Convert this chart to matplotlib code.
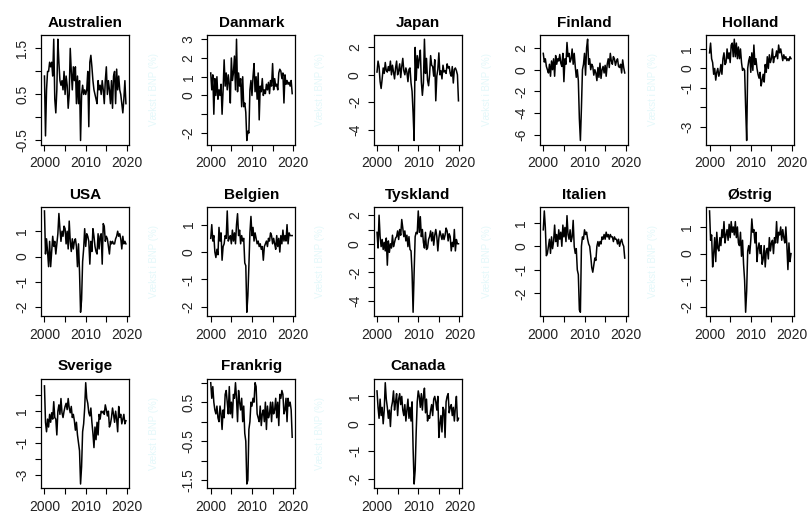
import matplotlib.pyplot as plt
import numpy as np

plt.rcParams['font.family'] = ['Liberation Sans', 'DejaVu Sans']

# quarterly growth in real GDP (%), 2000Q1 - 2019Q4
quarters = np.arange(2000, 2020, 0.25)

australien = [0.9, -0.4, 0.6, 1.0, 1.0, 1.2, 1.1, 1.2, 0.9, 1.7, 0.4, 0.1,
              0.6, 1.7, 1.2, 0.8, 0.7, 0.8, 0.6, 1.0, 0.5, 0.9, 0.7, 0.2,
              0.5, 1.5, 1.0, 0.6, 1.1, 0.8, 1.1, 0.3, 0.9, 0.3, 0.8, -0.5,
              0.5, 0.7, 0.5, 0.6, 0.5, 0.6, 1.0, -0.2, 1.2, 1.35, 1.1, 0.8,
              0.6, 0.5, 0.4, 0.3, 0.8, 0.6, 0.7, 0.5, 0.8, 0.6, 0.3, 0.8,
              1.1, 0.5, 0.8, 0.6, 0.3, 0.8, 0.2, 0.9, 1.0, 0.3, 1.05, 0.6,
              0.9, 0.6, 0.5, 0.3, 0.1, 0.4, 0.8, 0.3]
danmark = [1.2, 0.3, 1.1, -1.0, 0.9, 0.0, 1.0, -0.2, 0.3, 0.0, 0.6, -1.0,
           0.3, 1.9, 0.5, 1.2, 0.3, 1.1, 0.6, -0.4, 2.0, 0.8, 1.2, 2.1,
           0.3, 3.0, 0.2, 1.2, 0.5, 0.9, -0.6, 1.0, -0.6, -0.4, -0.9, -2.4,
           -1.9, -2.0, 0.3, 0.8, 0.0, 1.0, 1.7, 0.2, 1.0, -0.2, 1.2, -1.3,
           0.5, 0.2, 0.9, 0.0, 0.3, 0.1, 0.6, 0.3, 0.7, 0.1, 0.8, 0.5,
           1.7, 0.3, 0.9, 0.5, 0.6, 0.3, 1.2, 1.4, 1.3, 0.9, 1.2, -0.4,
           1.1, 0.6, 0.8, 0.6, 0.7, 0.5, 0.8, 0.1]
japan = [0.2, 1.0, 0.6, -0.5, -1.0, -0.3, 0.5, 0.1, 0.9, 0.3, 0.2, 0.6,
         0.3, 1.0, 0.0, 0.7, 0.2, -0.3, 0.5, 1.0, 0.0, 0.3, 0.8, -0.2,
         0.6, 1.2, 0.3, 0.0, 0.5, 0.2, -0.5, 0.4, 0.5, -0.6, -1.2, -2.8,
         -4.8, 2.0, -0.4, 1.4, 0.5, 1.2, 1.8, -0.5, -1.5, -0.6, 2.6, 0.1,
         1.2, -0.4, -0.8, 0.0, 1.4, 0.7, 0.6, -0.1, 1.1, -1.9, -0.1, 0.4,
         1.6, 0.0, 0.3, -0.3, 0.7, 0.2, 0.3, 0.1, 0.8, 0.5, 0.6, 0.1,
         -0.1, 0.6, -0.6, 0.4, 0.5, 0.3, 0.0, -1.9]
finland = [1.5, 0.7, 1.0, 0.3, 0.0, -0.3, 0.5, -0.6, 0.8, 0.0, 1.0, -0.6,
           1.3, 0.5, 1.0, 0.8, 1.4, 0.6, 0.3, 1.5, -1.1, 1.0, 0.5, 2.5,
           1.2, 1.5, 0.7, 1.0, 1.9, 0.5, 1.5, 0.3, -0.7, 0.0, -1.0, -4.5,
           -6.5, -3.5, 0.0, 0.5, 1.5, -0.5, 2.0, 2.8, 0.5, 1.0, 0.0, 0.5,
           0.3, -0.5, 0.0, -0.3, -1.0, 0.2, -0.7, 0.6, -0.8, 0.0, 0.3, -0.3,
           0.4, -0.6, 0.5, 1.0, 0.2, 1.5, 0.8, 0.5, 1.2, 1.0, 0.4, 0.8,
           1.0, 0.3, 0.2, 0.5, -0.3, 0.9, 0.2, -0.3]
holland = [0.8, 1.3, 0.5, 0.3, -0.3, 0.0, -0.6, -0.2, 0.0, -0.4, -0.2, 0.2,
           -0.3, 0.5, 0.8, 0.2, 0.3, 1.0, 0.5, 0.8, 0.3, 1.2, 1.3, 0.6,
           1.5, 0.6, 1.3, 0.5, 1.1, 0.5, 1.0, 0.3, -0.1, 0.0, -0.1, -2.0,
           -3.7, 0.0, 0.4, 0.6, -0.2, 0.8, -0.1, 1.2, 0.2, 0.5, 0.0, -0.3,
           -0.5, -0.2, -0.9, -0.6, -0.3, -0.7, 0.2, -0.2, 0.6, 0.0, 0.7, 0.3,
           0.5, 1.0, 0.3, 0.6, 0.6, 0.9, 0.5, 1.2, 0.8, 1.0, 0.7, 0.4,
           0.7, 0.5, 0.6, 0.4, 0.5, 0.4, 0.6, 0.5]
usa = [1.8, 0.1, 0.7, 0.2, -0.4, 0.6, -0.4, 0.2, 0.8, 0.4, 0.6, 0.1,
       0.5, 0.9, 1.7, 1.1, 0.6, 1.0, 0.8, 1.2, 1.1, 0.5, 1.0, 0.3,
       1.4, 0.6, 0.2, 0.7, 0.3, 0.6, 0.7, 0.4, -0.4, 0.5, -0.6, -2.2,
       -1.7, -0.2, 0.3, 1.1, 0.4, 0.9, 0.8, 0.6, -0.3, 0.6, 0.2, 1.1,
       0.8, 0.4, 0.2, 0.1, 0.9, 0.3, 0.8, 0.9, -0.3, 1.3, 1.2, 0.6,
       0.8, 0.7, 0.4, 0.1, 0.6, 0.5, 0.6, 0.5, 0.5, 0.7, 0.8, 1.0,
       0.8, 0.9, 0.7, 0.3, 0.8, 0.5, 0.6, 0.5]
belgien = [0.5, 1.0, 0.4, 0.6, 0.0, -0.2, 0.1, -0.1, 0.9, 0.4, 0.7, -0.3,
           0.2, 0.3, 0.6, 0.5, 1.5, 0.4, 0.5, 0.6, 0.3, 0.8, 0.4, 0.7,
           0.3, 1.0, 1.4, 0.6, 0.8, 0.3, 0.6, 0.4, 0.5, -0.4, -0.5, -2.2,
           -1.6, -0.5, 0.7, 1.3, 0.6, 0.9, 0.4, 0.7, 0.5, 0.3, 0.4, 0.2,
           0.3, 0.1, 0.2, -0.3, 0.2, 0.3, 0.4, 0.2, 0.5, 0.4, 0.7, 0.6,
           0.3, 0.5, 0.3, 0.1, 0.6, 0.2, 0.5, 0.0, 0.6, 0.3, 0.8, 0.4,
           0.6, 0.4, 1.0, 0.3, 0.7, 0.6, 0.6, 0.6]
tyskland = [0.8, -0.3, 2.0, 0.5, -0.2, 0.3, -0.4, 0.1, -0.5, 0.4, -1.5, 0.2,
            -0.6, 0.0, -0.3, 0.6, -0.2, 0.1, 0.4, 0.5, 0.9, 0.3, 1.0, 0.6,
            1.7, 1.1, 0.5, 0.9, 0.2, 0.6, -0.2, 0.5, -0.4, -0.5, -2.0, -4.8,
            -2.0, 0.5, 0.8, 0.7, 2.3, 0.8, 1.9, 0.5, 1.0, 0.1, -0.3, 0.8,
            -0.4, -0.3, 0.3, 0.5, 0.9, 0.2, 0.8, -0.1, 0.6, 1.0, 0.5, -0.5,
            0.4, 0.9, 0.6, 0.3, 0.7, 0.3, 0.6, 1.1, 0.9, 0.2, 0.7, 0.5,
            -0.5, 0.1, -0.2, 1.0, -0.5, 0.3, 0.0, 0.0]
italien = [0.7, 1.5, 0.8, -0.4, -0.3, 0.0, 0.3, -0.3, 0.4, -0.1, 0.2, 0.9,
           0.2, 0.5, 0.0, 0.7, 0.3, 0.6, 0.0, 0.9, 0.4, 0.8, 0.2, 1.3,
           0.5, 0.3, 0.7, 0.2, 0.4, 1.1, 0.0, -0.3, -0.1, -1.0, -1.2, -2.7,
           -2.8, 0.0, 0.4, 0.3, 0.7, 0.5, 0.6, 0.3, 0.1, 0.0, -0.4, -0.9,
           -1.1, -0.8, -0.5, -0.6, 0.0, 0.2, 0.0, 0.2, 0.1, 0.4, 0.3, 0.5,
           0.3, 0.6, 0.4, 0.5, 0.3, 0.5, 0.4, 0.4, 0.2, 0.4, 0.3, 0.3,
           0.1, 0.3, 0.0, 0.2, 0.3, 0.1, 0.0, -0.5]
oestrig = [1.6, 0.5, 0.7, -0.5, 0.0, 0.6, -0.3, 0.8, 0.2, 0.1, 0.6, 0.3,
           0.9, 0.6, 1.2, 0.4, 0.7, 0.9, 0.5, 1.1, 0.6, 1.2, 0.8, 1.0,
           0.7, 1.2, 0.6, 1.0, 0.4, 0.3, 0.8, -0.1, 0.5, -0.4, -1.0, -2.2,
           -1.4, 0.1, 0.3, 0.0, 0.5, 1.3, 0.8, 0.9, 0.4, 0.8, -0.3, 0.2,
           0.4, 0.0, 0.3, -0.4, -0.2, 0.3, -0.5, 0.1, 0.2, -0.2, 0.6, 0.1,
           0.4, 0.5, 0.0, 0.6, 0.4, 1.2, 0.4, 0.8, 0.7, 1.0, 0.5, 0.9,
           0.6, 0.4, 1.0, 0.3, -0.6, 0.4, -0.3, 0.0]
sverige = [2.6, 0.3, -0.3, 0.5, 0.0, 0.8, 0.3, 0.9, 0.5, 1.6, 0.6, 0.5,
           -0.5, 1.0, 1.4, 0.8, 1.8, 0.9, 0.6, 1.0, 1.3, 1.5, 1.1, 1.8,
           1.2, 0.9, 1.3, 0.6, 0.8, 0.4, -0.2, 0.3, -0.5, -1.0, -1.5, -3.6,
           -2.5, -0.3, 0.2, 1.2, 2.8, 1.8, 1.5, 0.9, 0.7, 1.2, 0.3, -0.4,
           -1.3, 0.0, -0.8, 0.3, -0.5, 0.8, 0.5, 1.0, 0.9, 1.0, 0.8, 1.4,
           1.1, 0.7, 1.0, 0.0, 0.2, 0.6, 1.2, 0.8, 0.3, 1.0, 0.5, -0.3,
           1.3, 0.6, 0.8, 0.2, 0.5, 0.8, 0.2, 0.4]
frankrig = [1.0, 0.6, 0.9, 0.5, 0.3, 0.2, 0.4, 0.1, 0.0, 0.4, 0.2, -0.2,
            0.3, 0.1, 0.7, 0.8, 0.5, 0.2, 0.9, 0.2, 0.5, 0.1, 0.7, 0.6,
            1.0, 0.6, 0.0, 0.8, 0.5, 0.3, 0.6, 0.0, 0.4, -0.3, -0.5, -1.6,
            -1.5, -0.2, 0.0, 0.5, 0.4, 0.6, 0.5, 1.0, 0.9, 0.2, 0.1, 0.0,
            0.4, -0.1, 0.2, 0.3, 0.0, 0.5, -0.2, 0.4, 0.1, 0.2, 0.5, 0.0,
            0.5, 0.2, 0.3, 0.6, 0.1, 0.5, -0.1, 0.7, 0.6, 0.8, 0.7, 0.2,
            0.3, 0.6, 0.0, 0.6, 0.4, 0.5, 0.3, -0.4]
canada = [1.2, 0.6, 0.2, 0.9, 0.3, 0.6, 0.0, 0.5, 1.5, 0.9, 0.6, 0.2,
          0.5, -0.1, 0.6, 0.8, 1.2, 0.5, 0.8, 1.1, 0.3, 0.9, 1.1, 0.7,
          1.0, 0.5, 0.3, 0.7, 0.1, 0.5, 0.9, 0.2, 0.6, 0.1, 0.8, -0.9,
          -2.2, -1.7, -0.3, 0.8, 1.2, 1.0, 0.6, 1.1, 0.5, 1.0, 1.3, 0.4,
          0.9, 0.1, 0.3, 0.2, 0.5, 0.7, 0.3, 0.9, 1.0, 0.8, 0.5, 1.0,
          -0.5, 0.0, 0.3, -0.3, 0.6, 0.5, -0.5, 0.8, 1.0, 1.1, 0.4, 0.6,
          0.7, 0.3, 0.6, 0.1, 0.6, 1.0, 0.1, 0.2]

countries = ["Australien", "Danmark", "Japan", "Finland", "Holland",
             "USA", "Belgien", "Tyskland", "Italien", "Østrig",
             "Sverige", "Frankrig", "Canada"]
series = [australien, danmark, japan, finland, holland,
          usa, belgien, tyskland, italien, oestrig,
          sverige, frankrig, canada]

# y ticks (R style: every tick drawn, overlapping labels dropped)
y_ticks = [[-0.5, 0, 0.5, 1, 1.5], [-2, -1, 0, 1, 2, 3], [-4, -2, 0, 2],
           [-6, -4, -2, 0, 2], [-3, -2, -1, 0, 1],
           [-2, -1, 0, 1], [-2, -1, 0, 1], [-4, -3, -2, -1, 0, 1, 2],
           [-2, -1, 0, 1], [-2, -1, 0, 1],
           [-3, -2, -1, 0, 1, 2], [-1.5, -1, -0.5, 0, 0.5, 1], [-2, -1, 0, 1]]
y_labels = [["-0.5", "", "0.5", "", "1.5"], ["-2", "", "0", "1", "2", "3"],
            ["-4", "-2", "0", "2"], ["-6", "-4", "-2", "0", "2"],
            ["-3", "", "-1", "0", "1"],
            ["-2", "-1", "0", "1"], ["-2", "-1", "0", "1"],
            ["-4", "", "-2", "", "0", "", "2"], ["-2", "-1", "0", "1"],
            ["-2", "-1", "0", "1"],
            ["-3", "", "-1", "", "1", ""], ["-1.5", "", "-0.5", "", "0.5", ""],
            ["-2", "-1", "0", "1"]]
x_ticks = [2000, 2005, 2010, 2015, 2020]
x_labels = ["2000", "", "2010", "", "2020"]

fig, axes = plt.subplots(3, 5, figsize=(8.08, 5.17), dpi=100)
fig.subplots_adjust(left=0.051, right=0.983, top=0.932, bottom=0.056,
                    wspace=0.89, hspace=0.57)

for i, ax in enumerate(axes.flat):
    if i >= len(countries):
        ax.axis("off")
        continue
    ax.plot(quarters, series[i], color="black", linewidth=1.1)
    ax.margins(x=0.04, y=0.04)
    ax.set_title(countries[i], fontsize=11, fontweight="bold", pad=6)
    ax.set_xticks(x_ticks, x_labels)
    ax.set_yticks(y_ticks[i], y_labels[i])
    ax.tick_params(direction="out", length=4.5, width=0.8, labelsize=10,
                   pad=4, labelcolor="#222222")
    ax.tick_params(axis="y", labelrotation=90)
    for lab in ax.get_yticklabels():
        lab.set_va("center")
    for s in ax.spines.values():
        s.set_linewidth(0.9)
    # very faint y-axis label, off the figure for the first column
    if i % 5 != 0:
        ax.set_ylabel("Vækst i BNP (%)", color="#e4f8fa", fontsize=7)
        ax.yaxis.set_label_coords(-0.55, 0.5)

fig.savefig("out.png", dpi=100)
